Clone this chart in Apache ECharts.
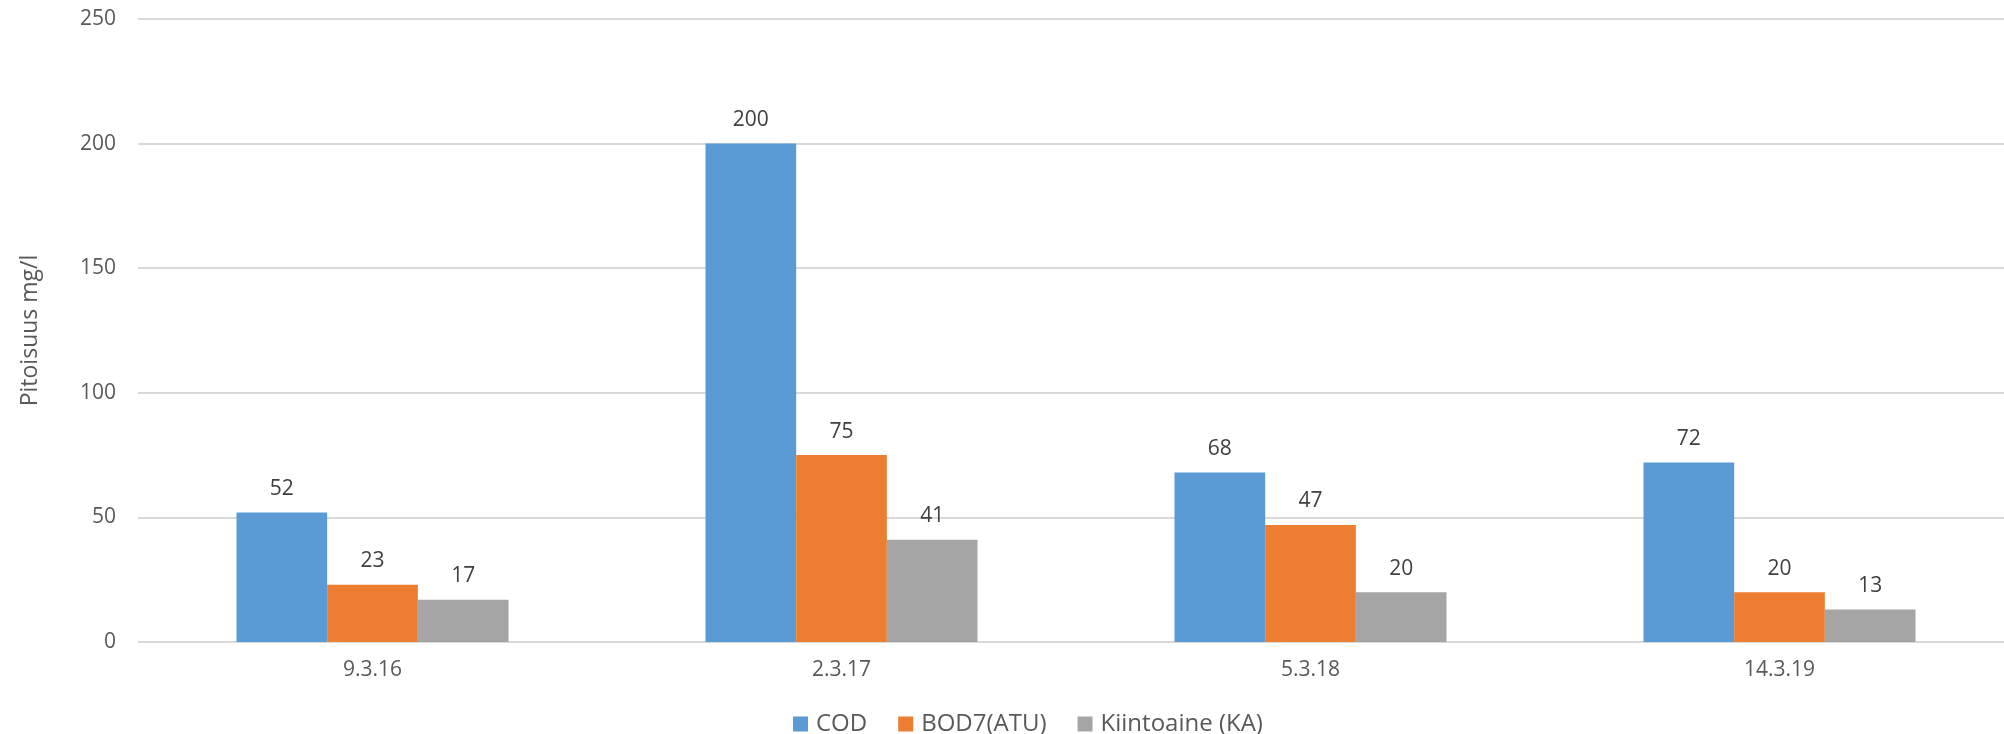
<!DOCTYPE html>
<html>
<head>
<meta charset="utf-8">
<script src="https://cdn.jsdelivr.net/npm/echarts@6/dist/echarts.min.js"></script>
<style>
  html, body { margin: 0; padding: 0; background: #fff; overflow: hidden; width: 2004px; height: 734px; }
  /* the plot area runs a little past the right edge of the page */
  #chart { width: 2014px; height: 734px; }
</style>
</head>
<body>
<div id="chart"></div>
<script>
// Sampling dates
const categories = ['9.3.16', '2.3.17', '5.3.18', '14.3.19'];

// Concentrations, mg/l
const codValues = [52, 200, 68, 72];
const bodValues = [23, 75, 47, 20];
const kaValues = [17, 41, 20, 13];

const seriesNames = ['COD', 'BOD7(ATU)', 'Kiintoaine (KA)'];
const yAxisTitle = 'Pitoisuus mg/l';

const FONT = '"Open Sans", "Liberation Sans", sans-serif';
const colors = ['#5B9BD5', '#ED7D31', '#A5A5A5'];

function barSeries(name, data, color) {
  return {
    name: name,
    type: 'bar',
    data: data,
    barGap: '0%',
    barCategoryGap: '42%',
    itemStyle: { color: color },
    label: {
      show: true,
      position: 'top',
      distance: 13,
      color: '#404040',
      fontSize: 21,
      fontFamily: FONT
    }
  };
}

const chart = echarts.init(document.getElementById('chart'), null, { renderer: 'canvas' });
chart.setOption({
  animation: false,
  backgroundColor: '#ffffff',
  color: colors,
  grid: { left: 138, right: 0, top: 19, bottom: 92, containLabel: false },
  legend: {
    data: seriesNames,
    left: 788,
    top: 707,
    icon: 'rect',
    itemWidth: 15,
    itemHeight: 15,
    itemGap: 31,
    textStyle: { color: '#595959', fontSize: 24, fontFamily: FONT, padding: [0, 0, 0, 3] }
  },
  xAxis: {
    type: 'category',
    data: categories,
    axisLine: { show: false },
    axisTick: { show: false },
    axisLabel: { color: '#595959', fontSize: 21, fontFamily: FONT, margin: 18 }
  },
  yAxis: {
    type: 'value',
    min: 0,
    max: 250,
    interval: 50,
    name: yAxisTitle,
    nameLocation: 'middle',
    nameGap: 96,
    nameRotate: 90,
    nameTextStyle: { color: '#595959', fontSize: 23, fontFamily: FONT },
    axisLine: { show: false },
    axisTick: { show: false },
    axisLabel: { color: '#595959', fontSize: 21, fontFamily: FONT, margin: 22 },
    splitLine: { lineStyle: { color: '#d9d9d9', width: 2 } }
  },
  series: [
    barSeries(seriesNames[0], codValues, colors[0]),
    barSeries(seriesNames[1], bodValues, colors[1]),
    barSeries(seriesNames[2], kaValues, colors[2])
  ]
});
</script>
</body>
</html>
